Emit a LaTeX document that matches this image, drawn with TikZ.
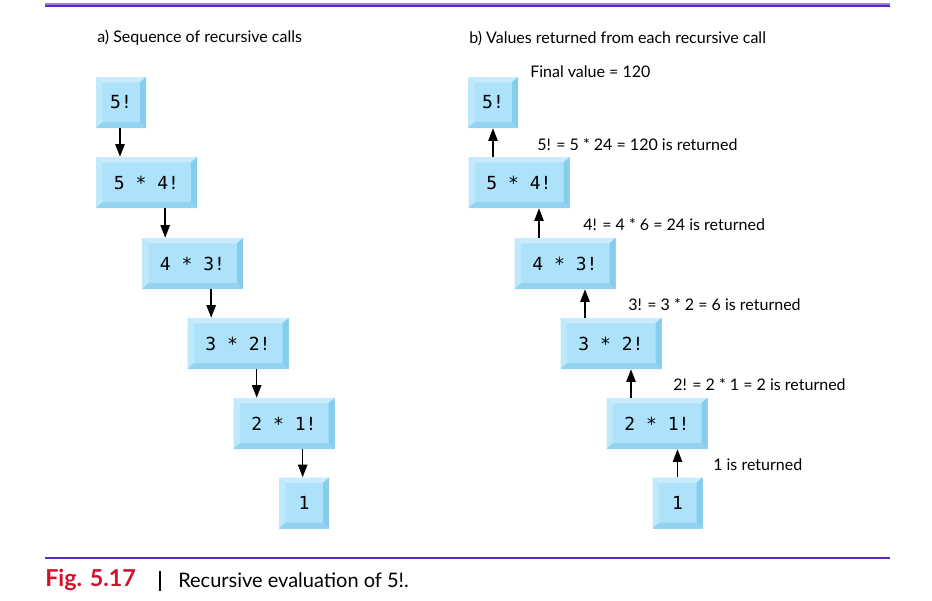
\documentclass[tikz,border=0pt]{standalone}
\usepackage{fontspec}
\setmainfont{Lato}
\newfontfamily\boxfont{DejaVu Sans Mono}
\usetikzlibrary{arrows.meta}
\definecolor{boxface}{RGB}{174,226,250}
\definecolor{bevtop}{RGB}{200,236,251}
\definecolor{bevleft}{RGB}{190,232,251}
\definecolor{bevright}{RGB}{134,204,236}
\definecolor{bevbot}{RGB}{146,211,240}
\definecolor{rulepurple}{RGB}{88,40,200}
\definecolor{figred}{RGB}{214,16,42}
\tikzset{
 bevbox/.style={fill=boxface,inner sep=0pt,minimum height=38.25pt,minimum width=37.5pt,
  font=\boxfont\fontsize{13.5}{15}\selectfont,
  path picture={
   \fill[bevtop] (path picture bounding box.north west) -- (path picture bounding box.north east)
    -- ([shift={(-4.5pt,-4pt)}]path picture bounding box.north east)
    -- ([shift={(5pt,-4pt)}]path picture bounding box.north west) -- cycle;
   \fill[bevleft] (path picture bounding box.north west) -- ([shift={(5pt,-4pt)}]path picture bounding box.north west)
    -- ([shift={(5pt,4.5pt)}]path picture bounding box.south west)
    -- (path picture bounding box.south west) -- cycle;
   \fill[bevright] (path picture bounding box.north east) -- ([shift={(-4.5pt,-4pt)}]path picture bounding box.north east)
    -- ([shift={(-4.5pt,4.5pt)}]path picture bounding box.south east)
    -- (path picture bounding box.south east) -- cycle;
   \fill[bevbot] (path picture bounding box.south west) -- ([shift={(5pt,4.5pt)}]path picture bounding box.south west)
    -- ([shift={(-4.5pt,4.5pt)}]path picture bounding box.south east)
    -- (path picture bounding box.south east) -- cycle;
  }},
 wide/.style={minimum width=75.75pt},
 arr/.style={line width=1.2pt,-{Triangle[length=9.5pt,width=7pt]}},
 lbl/.style={anchor=west,inner sep=0pt,font=\fontsize{12}{14}\selectfont},
}
\begin{document}
\begin{tikzpicture}[x=0.75pt,y=-0.75pt]
 \useasboundingbox (0,0) rectangle (932,600);
 \fill[rulepurple!60] (45,2.5) rectangle (890,4.5);
 \fill[rulepurple] (45,4.5) rectangle (890,6.5);
 \draw[rulepurple,line width=1pt] (45,558) -- (890,558);
 % a) sequence of calls
 \node[lbl] (ttla) at (97,38) {a) Sequence of recursive calls};
 \node[bevbox] (a5) at (121,102.5) {5!};
 \node[bevbox,wide] (a4) at (146.5,182.5) {5 * 4!};
 \node[bevbox,wide] (a3) at (192.5,263.5) {4 * 3!};
 \node[bevbox,wide] (a2) at (238,343.5) {3 * 2!};
 \node[bevbox,wide] (a1) at (284,423.5) {2 * 1!};
 \node[bevbox] (a0) at (304,503) {1};
 \draw[arr] ([xshift=-0.75pt]a5.south) -- ([xshift=-0.75pt]a5.south |- a4.north);
 \draw[arr] ([xshift=14pt]a4.south) -- ([xshift=14pt]a4.south |- a3.north);
 \draw[arr] ([xshift=14pt]a3.south) -- ([xshift=14pt]a3.south |- a2.north);
 \draw[arr] ([xshift=14pt]a2.south) -- ([xshift=14pt]a2.south |- a1.north);
 \draw[arr] ([xshift=14pt]a1.south) -- ([xshift=14pt]a1.south |- a0.north);
 % b) values returned
 \node[lbl] (ttlb) at (469,38) {b) Values returned from each recursive call};
 \node[bevbox] (b5) at (493,102.5) {5!};
 \node[bevbox,wide] (b4) at (519,182.5) {5 * 4!};
 \node[bevbox,wide] (b3) at (565,263.5) {4 * 3!};
 \node[bevbox,wide] (b2) at (611,343.5) {3 * 2!};
 \node[bevbox,wide] (b1) at (657,423.5) {2 * 1!};
 \node[bevbox] (b0) at (677.5,503) {1};
 \draw[arr] (b0.north) -- (b0.north |- b1.south);
 \draw[arr] ([xshift=-19.5pt]b1.north) -- ([xshift=-19.5pt]b1.north |- b2.south);
 \draw[arr] ([xshift=-19.5pt]b2.north) -- ([xshift=-19.5pt]b2.north |- b3.south);
 \draw[arr] ([xshift=-19.5pt]b3.north) -- ([xshift=-19.5pt]b3.north |- b4.south);
 \draw[arr] ([xshift=-19.5pt]b4.north) -- ([xshift=-19.5pt]b4.north |- b5.south);
 \node[lbl] (fin) at (530,72) {Final value = 120};
 \node[lbl] (r5) at (537,145) {5! = 5 * 24 = 120 is returned};
 \node[lbl] (r4) at (583,225) {4! = 4 * 6 = 24 is returned};
 \node[lbl] (r3) at (628,305) {3! = 3 * 2 = 6 is returned};
 \node[lbl] (r2) at (673,385) {2! = 2 * 1 = 2 is returned};
 \node[lbl] (r1) at (713,465) {1 is returned};
 % caption
 \node[anchor=west,inner sep=0pt,text=figred,font=\bfseries\fontsize{17.5}{19}\selectfont] (fig) at (45,580) {Fig. 5.17};
 \draw[line width=0.8pt] (160,571) -- (160,591);
 \node[anchor=west,inner sep=0pt,font=\fontsize{15}{17}\selectfont] (cap) at (178,580) {Recursive evaluation of 5!.};
\end{tikzpicture}
\end{document}
